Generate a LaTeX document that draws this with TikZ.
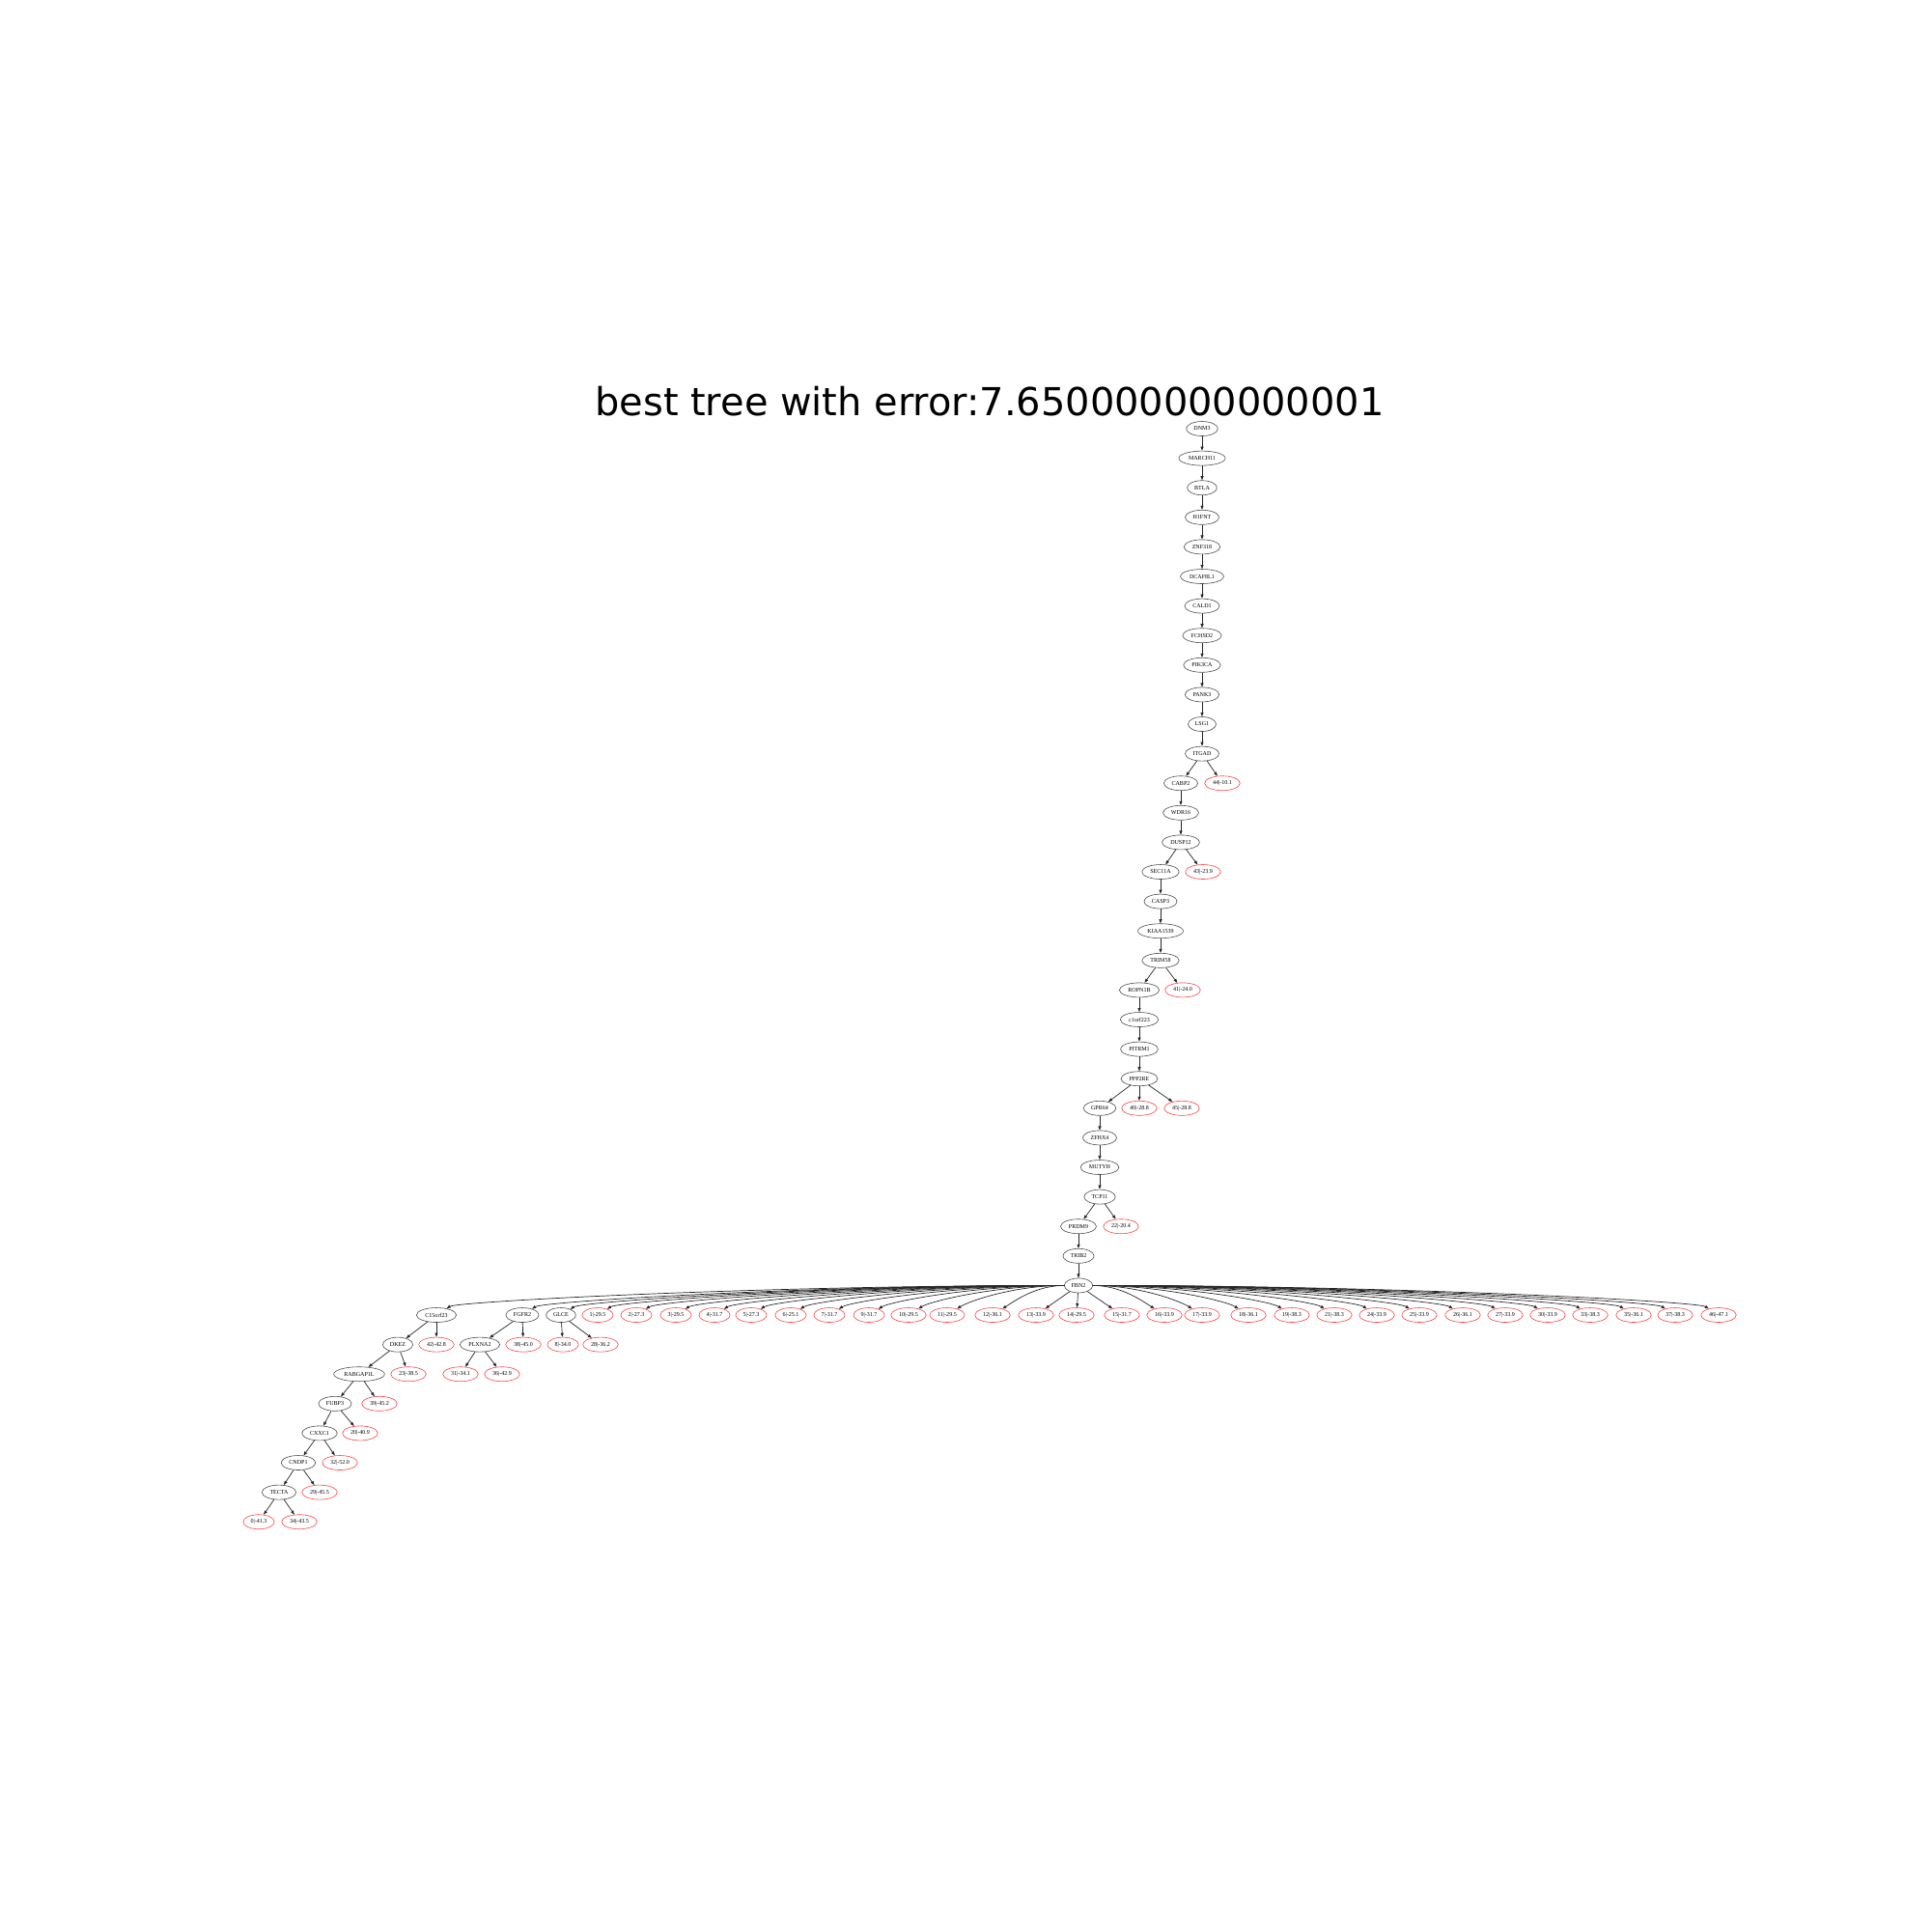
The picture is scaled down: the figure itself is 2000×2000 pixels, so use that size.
\documentclass[tikz,border=0pt]{standalone}
\usepackage{fontspec}
\newfontfamily\nodefont{Liberation Serif}
\newfontfamily\titlefont{DejaVu Sans}
\usetikzlibrary{shapes.geometric,arrows.meta}
\tikzset{
  gene/.style={ellipse,draw=black!70,line width=0.06mm,minimum height=1.5mm,minimum width=2.9mm,
    inner xsep=0.3mm,inner ysep=0.1mm,font=\nodefont\fontsize{1.72pt}{2pt}\selectfont},
  leaf/.style={gene,draw=red!75},
  edge/.style={draw=black!85,line width=0.07mm,-{Triangle[length=0.42mm,width=0.3mm]}},
}
\begin{document}
\begin{tikzpicture}[x=0.1mm,y=-0.1mm]
\useasboundingbox (0,0) rectangle (2000,2000);
\node[anchor=base,font=\titlefont\fontsize{11.35pt}{13pt}\selectfont] (title) at (1025,430) {best tree with error:7.650000000000001};
% main chain
\node[gene] (DNM3) at (1245,444) {DNM3};
\node[gene] (MARCH11) at (1245,474.6) {MARCH11};
\node[gene] (BTLA) at (1245,505.2) {BTLA};
\node[gene] (H1FNT) at (1245,535.8) {H1FNT};
\node[gene] (ZNF318) at (1245,566.4) {ZNF318};
\node[gene] (DCAF8L1) at (1245,597) {DCAF8L1};
\node[gene] (CALD1) at (1245,627.6) {CALD1};
\node[gene] (FCHSD2) at (1245,658.2) {FCHSD2};
\node[gene] (PIK3CA) at (1245,688.8) {PIK3CA};
\node[gene] (PANK3) at (1245,719.4) {PANK3};
\node[gene] (LSG1) at (1245,750) {LSG1};
\node[gene] (ITGAD) at (1245,780.6) {ITGAD};
\node[gene] (CABP2) at (1223,811.2) {CABP2};
\node[leaf] (L44) at (1266,811.2) {44|-10.1};
\node[gene] (WDR16) at (1223,841.8) {WDR16};
\node[gene] (DUSP12) at (1223,872.4) {DUSP12};
\node[gene] (SEC11A) at (1202,903) {SEC11A};
\node[leaf] (L43) at (1246,903) {43|-23.9};
\node[gene] (CASP3) at (1202,933.6) {CASP3};
\node[gene] (KIAA1539) at (1202,964.2) {KIAA1539};
\node[gene] (TRIM58) at (1202,994.8) {TRIM58};
\node[gene] (ROPN1B) at (1180,1025.4) {ROPN1B};
\node[leaf] (L41) at (1225,1025.4) {41|-24.0};
\node[gene] (C1orf) at (1180,1056) {c1orf223};
\node[gene] (PITRM1) at (1180,1086.6) {PITRM1};
\node[gene] (PPP2RE) at (1180,1117.2) {PPP2RE};
\node[gene] (GPR64) at (1139,1147.8) {GPR64};
\node[leaf] (L40) at (1180,1147.8) {40|-28.8};
\node[leaf] (L45) at (1224,1147.8) {45|-28.8};
\node[gene] (ZFHX4) at (1139,1178.4) {ZFHX4};
\node[gene] (MUTYH) at (1139,1209) {MUTYH};
\node[gene] (TCP11) at (1139,1239.6) {TCP11};
\node[gene] (PRDM9) at (1117,1270.2) {PRDM9};
\node[leaf] (L22) at (1161,1270.2) {22|-20.4};
\node[gene] (TRIB2) at (1117,1300.8) {TRIB2};
\node[gene] (FBN2) at (1117,1331.4) {FBN2};
% row under FBN2
\node[gene] (C15orf23) at (452,1362) {C15orf23};
\node[gene] (FGFR2) at (541,1362) {FGFR2};
\node[gene] (GLCE) at (581,1362) {GLCE};
\node[leaf] (L1) at (619,1362) {1|-29.5};
\node[leaf] (L2) at (659,1362) {2|-27.3};
\node[leaf] (L3) at (700,1362) {3|-29.5};
\node[leaf] (L4) at (740,1362) {4|-31.7};
\node[leaf] (L5) at (778,1362) {5|-27.3};
\node[leaf] (L6) at (819,1362) {6|-25.1};
\node[leaf] (L7) at (859,1362) {7|-31.7};
\node[leaf] (L9) at (900,1362) {9|-31.7};
\node[leaf] (L10) at (941,1362) {10|-29.5};
\node[leaf] (L11) at (981,1362) {11|-29.5};
\node[leaf] (L12) at (1028,1362) {12|-36.1};
\node[leaf] (L13) at (1073,1362) {13|-33.9};
\node[leaf] (L14) at (1115,1362) {14|-29.5};
\node[leaf] (L15) at (1162,1362) {15|-31.7};
\node[leaf] (L16) at (1206,1362) {16|-33.9};
\node[leaf] (L17) at (1245,1362) {17|-33.9};
\node[leaf] (L18) at (1293,1362) {18|-36.1};
\node[leaf] (L19) at (1338,1362) {19|-38.3};
\node[leaf] (L21) at (1382,1362) {21|-38.3};
\node[leaf] (L24) at (1426,1362) {24|-33.9};
\node[leaf] (L25) at (1470,1362) {25|-33.9};
\node[leaf] (L26) at (1515,1362) {26|-36.1};
\node[leaf] (L27) at (1559,1362) {27|-33.9};
\node[leaf] (L30) at (1603,1362) {30|-33.9};
\node[leaf] (L33) at (1647,1362) {33|-38.3};
\node[leaf] (L35) at (1692,1362) {35|-36.1};
\node[leaf] (L37) at (1735,1362) {37|-38.3};
\node[leaf] (L46) at (1780,1362) {46|-47.1};
% left subtrees
\node[gene] (DKEZ) at (412,1392.6) {DKEZ};
\node[leaf] (L42) at (452,1392.6) {42|-42.8};
\node[gene] (PLXNA2) at (497,1392.6) {PLXNA2};
\node[leaf] (L38) at (542,1392.6) {38|-45.0};
\node[leaf] (L8) at (583,1392.6) {8|-34.0};
\node[leaf] (L28) at (622,1392.6) {28|-36.2};
\node[gene] (RABGAP1L) at (372,1423.2) {RABGAP1L};
\node[leaf] (L23) at (423,1423.2) {23|-38.5};
\node[leaf] (L31) at (477,1423.2) {31|-34.1};
\node[leaf] (L36) at (520,1423.2) {36|-42.9};
\node[gene] (FUBP3) at (347,1453.8) {FUBP3};
\node[leaf] (L39) at (393,1453.8) {39|-45.2};
\node[gene] (CXXC1) at (331,1484.4) {CXXC1};
\node[leaf] (L20) at (373,1484.4) {20|-40.9};
\node[gene] (CNDP1) at (309,1515) {CNDP1};
\node[leaf] (L32) at (352,1515) {32|-52.0};
\node[gene] (TECTA) at (289,1545.6) {TECTA};
\node[leaf] (L29) at (331,1545.6) {29|-45.5};
\node[leaf] (L0) at (268,1576.2) {0|-41.3};
\node[leaf] (L34) at (310,1576.2) {34|-43.5};
% edges
\foreach \a/\b in {DNM3/MARCH11,MARCH11/BTLA,BTLA/H1FNT,H1FNT/ZNF318,ZNF318/DCAF8L1,DCAF8L1/CALD1,
  CALD1/FCHSD2,FCHSD2/PIK3CA,PIK3CA/PANK3,PANK3/LSG1,LSG1/ITGAD,ITGAD/CABP2,ITGAD/L44,CABP2/WDR16,
  WDR16/DUSP12,DUSP12/SEC11A,DUSP12/L43,SEC11A/CASP3,CASP3/KIAA1539,KIAA1539/TRIM58,TRIM58/ROPN1B,
  TRIM58/L41,ROPN1B/C1orf,C1orf/PITRM1,PITRM1/PPP2RE,PPP2RE/GPR64,PPP2RE/L40,PPP2RE/L45,GPR64/ZFHX4,
  ZFHX4/MUTYH,MUTYH/TCP11,TCP11/PRDM9,TCP11/L22,PRDM9/TRIB2,TRIB2/FBN2,
  C15orf23/DKEZ,C15orf23/L42,DKEZ/RABGAP1L,DKEZ/L23,RABGAP1L/FUBP3,RABGAP1L/L39,FUBP3/CXXC1,FUBP3/L20,
  CXXC1/CNDP1,CXXC1/L32,CNDP1/TECTA,CNDP1/L29,TECTA/L0,TECTA/L34,
  FGFR2/PLXNA2,FGFR2/L38,PLXNA2/L31,PLXNA2/L36,GLCE/L8,GLCE/L28,
  FBN2/L13,FBN2/L14,FBN2/L15}
  \draw[edge] (\a) -- (\b);
\foreach \b/\x in {C15orf23/452,FGFR2/541,GLCE/581,L1/619,L2/659,L3/700,L4/740,L5/778,L6/819,L7/859,
  L9/900,L10/941,L11/981,L12/1028,L16/1206,L17/1245,L18/1293,L19/1338,L21/1382,L24/1426,
  L25/1470,L26/1515,L27/1559,L30/1603,L33/1647,L35/1692,L37/1735,L46/1780}{
  \pgfmathsetmacro\dx{(\x-1117)*0.5}
  \pgfmathsetmacro\ex{ifthenelse(\x<1117,22,-22)}
  \draw[edge] (FBN2) .. controls +(\dx,0) and +(\ex,-14) .. (\b);
}
\end{tikzpicture}
\end{document}
